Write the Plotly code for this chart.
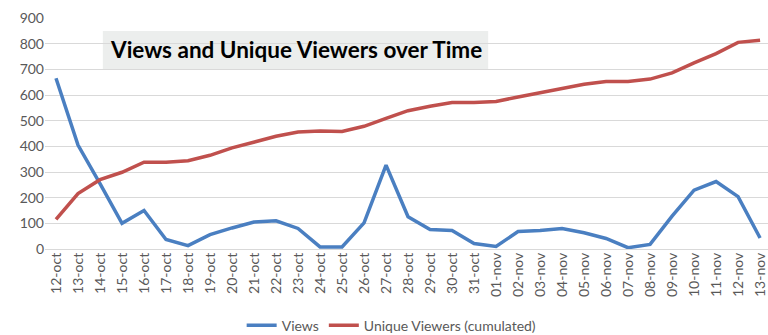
import plotly.graph_objects as go

dates = ["12-oct","13-oct","14-oct","15-oct","16-oct","17-oct","18-oct","19-oct","20-oct","21-oct",
         "22-oct","23-oct","24-oct","25-oct","26-oct","27-oct","28-oct","29-oct","30-oct","31-oct",
         "01-nov","02-nov","03-nov","04-nov","05-nov","06-nov","07-nov","08-nov","09-nov","10-nov",
         "11-nov","12-nov","13-nov"]
views = [665, 405, 255, 100, 150, 37, 13, 56, 82, 105,
         110, 80, 8, 8, 102, 327, 126, 76, 72, 21,
         10, 68, 72, 80, 63, 41, 5, 18, 128, 229,
         263, 204, 43]
unique_viewers = [115, 216, 270, 299, 338, 338, 344, 365, 394, 417,
                  439, 456, 460, 458, 478, 509, 539, 556, 571, 571,
                  575, 592, 608, 626, 642, 653, 653, 662, 686, 725,
                  761, 805, 813]
y_ticks = [0, 100, 200, 300, 400, 500, 600, 700, 800, 900]
title_text = "Views and Unique Viewers over Time"

fig = go.Figure()
fig.add_trace(go.Scatter(x=dates, y=views, mode="lines", name="Views",
                         line=dict(color="#4a7fc1", width=3.5)))
fig.add_trace(go.Scatter(x=dates, y=unique_viewers, mode="lines", name="Unique Viewers (cumulated)",
                         line=dict(color="#c0504d", width=3.5)))

fig.add_shape(type="rect", xref="paper", yref="paper", x0=0.080, x1=0.613, y0=0.779, y1=0.944,
              fillcolor="#eceeed", line=dict(width=0), layer="below")
fig.add_annotation(text="<b>" + title_text + "</b>", xref="paper", yref="paper",
                   x=0.3465, y=0.8615, xanchor="center", yanchor="middle", showarrow=False,
                   font=dict(family="Lato", size=22.5, color="#000000"))

fig.update_layout(
    width=768, height=335,
    margin=dict(l=45, r=0, t=18, b=86, autoexpand=False),
    paper_bgcolor="white", plot_bgcolor="white",
    font=dict(family="Lato", color="#595959", size=14),
    showlegend=True,
    legend=dict(orientation="h", x=0.272, xanchor="left", y=-0.332, yanchor="middle",
                font=dict(size=14, color="#595959"), itemwidth=30, tracegroupgap=0,
                bgcolor="rgba(0,0,0,0)"),
)
fig.update_xaxes(type="category", range=[-0.5, 32.36], tickangle=-90, showgrid=False,
                 showline=False, ticks="", automargin=False,
                 tickfont=dict(size=14, color="#595959"))
fig.update_yaxes(range=[0, 900], tickvals=y_ticks, showgrid=True, gridcolor="#d9d9d9",
                 gridwidth=1, zeroline=True, zerolinecolor="#d9d9d9", zerolinewidth=1,
                 showline=False, ticks="", automargin=False,
                 tickfont=dict(size=14, color="#595959"))

fig.write_html("out.html")
